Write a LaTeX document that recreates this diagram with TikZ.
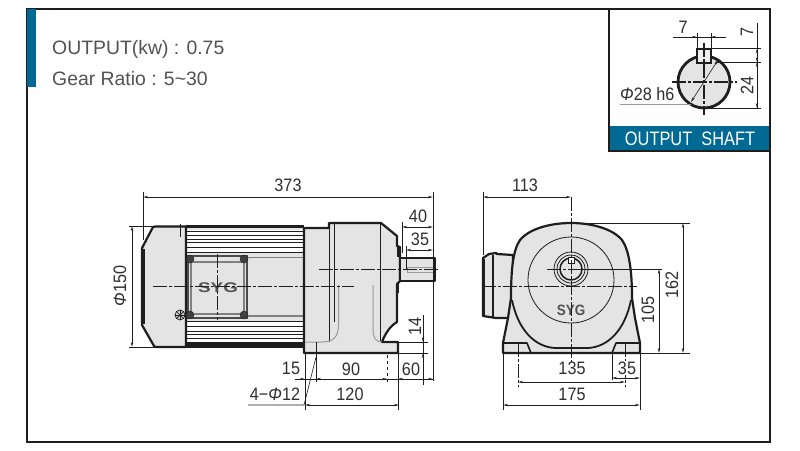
\documentclass[tikz,border=0pt]{standalone}
\usepackage{fontspec}
\setmainfont{Liberation Sans}
\newfontfamily\numf[FakeStretch=0.9]{Liberation Sans}
\newfontfamily\shaftf[FakeStretch=0.84]{Liberation Sans}
\newfontfamily\logof[FakeStretch=1.35]{Liberation Sans}
\usetikzlibrary{arrows.meta}
\definecolor{teal1}{HTML}{006A94}
\definecolor{body1}{HTML}{E4E4E4}
\definecolor{ink}{HTML}{1E1E1E}
\definecolor{txt}{HTML}{2E2E2E}
\newcommand{\Ph}{\textit{Φ}}
\tikzset{
 x=1pt,y=-1pt,
 every node/.style={inner sep=0pt,text=txt,font=\numf\fontsize{18}{18}\selectfont},
 frameline/.style={draw=ink,line width=1.8pt},
 outline/.style={draw=ink,line width=2.2pt,line join=round,fill=body1},
 heavy/.style={draw=ink,line width=2.2pt,line join=round},
 thinl/.style={draw=ink,line width=0.7pt},
 grayl/.style={draw=gray!80,line width=1pt},
 dim/.style={draw=ink,line width=0.7pt,{Stealth[length=5pt,width=2.4pt]}-{Stealth[length=5pt,width=2.4pt]}},
 ext/.style={draw=ink,line width=0.6pt},
 center/.style={draw=ink,line width=0.8pt,dash pattern=on 14pt off 2pt on 3pt off 2pt},
 logo/.style={text=gray!65!black,font=\logof\fontsize{14}{14}\selectfont\bfseries},
 head/.style={text=black!68,font=\rmfamily\fontsize{19.4}{19.4}\selectfont,anchor=west},
 bolt/.style={fill=ink!85,draw=ink,line width=0.4pt},
}
\begin{document}
\begin{tikzpicture}
\useasboundingbox (0,0) rectangle (800,450);
\fill[white] (0,0) rectangle (800,450);
% frame
\draw[frameline] (27,9) rectangle (770,442);
\fill[teal1] (27,9) rectangle (36,87);
\draw[frameline] (609,9) -- (609,151) -- (770,151);
\fill[teal1] (609,126) rectangle (769,151);
\draw[frameline] (609,126) -- (609,151) -- (769,151);
\node[head] (t1) at (52,49) {OUTPUT(kw) : 0.75};
\node[head] (t2) at (52,79) {Gear Ratio : 5\char"007E 30};
\node[text=white,font=\shaftf\fontsize{19.5}{19.5}\selectfont] (t3) at (690,138.5) {OUTPUT\ \ SHAFT};

% inset
\draw[line width=2.8pt,draw=ink,fill=body1] (704,82) circle (26);
\draw[line width=2pt,draw=ink,fill=body1!60!white] (697,48.5) rectangle (711,62.5);
\draw[center,line width=1.1pt] (672,82) -- (737,82);
\draw[center,line width=1.1pt] (704,43) -- (704,115);
\draw[ext] (697,33) -- (697,48);
\draw[ext] (711,33) -- (711,48);
\draw[ext] (673,37) -- (726,37);
\draw[ext,-{Stealth[length=5pt,width=2.4pt]}] (687,37) -- (697,37);
\draw[ext,-{Stealth[length=5pt,width=2.4pt]}] (721,37) -- (711,37);
\node (i7) at (683,27) {7};
\draw[ext] (711,48.5) -- (761,48.5);
\draw[ext] (716,62) -- (761,62);
\draw[ext] (704,108) -- (761,108);
\draw[ext] (757,23) -- (757,108);
\draw[dim] (757,48.5) -- (757,62);
\draw[dim] (757,62) -- (757,108);
\node[rotate=90] (i7b) at (747,32) {7};
\node[rotate=90] (i24) at (747,85) {24};
\draw[ext,{Stealth[length=5pt,width=2.4pt]}-{Stealth[length=5pt,width=2.4pt]}] (691,102) -- (718,60);
\draw[grayl] (620,104) -- (691,104);
\node[anchor=west] (iph) at (620,94.5) {\Ph28 h6};

% side view: motor
\fill[body1] (186,226) rectangle (304,347);
\fill[white] (186,230) rectangle (304,252);
\fill[white] (186,321) rectangle (304,343);
\foreach \yy in {231,235,239,242,247,252,321,326,331,334,338,342}{
  \draw[thinl,line width=0.8pt] (186,\yy) -- (304,\yy);}
\draw[draw=gray,line width=1.2pt] (248,257.5) -- (304,257.5);
\draw[draw=gray,line width=1.2pt] (248,316) -- (304,316);
\draw[outline] (186,226.5) -- (155,226.5) -- (153,227) -- (142,248) -- (142,325) -- (154,346) -- (156,347) -- (186,347) -- cycle;
\draw[heavy,line width=3pt] (143,249) -- (143,324);
\draw[line width=3.4pt,draw=ink] (186,226.5) -- (304,226.5);
\draw[line width=4.4pt,draw=ink] (186,345.5) -- (304,345.5);
\draw[line width=2.4pt,draw=ink] (186,226) -- (186,347);
% terminal box
\draw[draw=ink!80,line width=1.8pt,fill=body1] (188,256) rectangle (247,318);
\draw[draw=gray,line width=1.4pt] (191,262) rectangle (244,314);
\foreach \bx/\by/\bn in {190/259/b1,244/259/b2,190/315/b3,244/315/b4}{
  \fill[bolt] (\bx,\by) circle (4);}
\draw[thinl,fill=gray!40] (180,315) circle (5);
\foreach \aa in {0,45,90,135}{\draw[thinl] (180,315) ++(\aa:5) -- ++(\aa+180:10);}
\draw[thinl] (180,224) -- (180,237);
\draw[thinl] (177,226) -- (183,226);
\node[logo] (l1) at (218,288) {SYG};

% gearbox
\draw[outline,fill=body1] (304,353) -- (304,228) -- (329,228) -- (329,223) -- (381,223) -- (397,236) -- (397,246) -- (400,247) -- (400,257) -- (400,281) -- (397,284) -- (397,293) -- (397,322) .. controls (390,326) and (385,334) .. (382,342) -- (398,342) -- (398,353) -- cycle;
\draw[heavy,fill=body1] (400,258) rectangle (435,281);
\draw[grayl] (407,267) -- (407,272) -- (433,272);
\draw[grayl,line width=0.7pt] (407,267) -- (433,267);
\draw[grayl,draw=gray!50] (398,258) -- (398,281);
\draw[heavy,line width=2.8pt] (398,246) -- (398,257);
\draw[heavy,line width=2.8pt] (398,282) -- (398,293);
\draw[thinl,line width=0.9pt] (329,223) -- (329,342);
\draw[thinl,line width=0.9pt] (334,223) -- (334,322);
\draw[thinl,line width=0.9pt] (380,223) -- (380,342);
\draw[grayl] (338.5,285) -- (338.5,325) .. controls (338.5,338) and (332,342) .. (322,342) -- (305,342);
\draw[grayl] (373,285) -- (373,330) .. controls (373,338) and (376,342) .. (382,342);
\draw[heavy,line width=1.6pt] (382,342) -- (398,342);
\draw[heavy] (305,353) -- (398,353);
% centre lines
\draw[center] (153,286) -- (354,286);
\draw[center] (319,269) -- (438,269);
\draw[center,line width=0.6pt] (217,254) -- (217,320);
% dims side
\draw[ext] (143,192) -- (143,240);
\draw[ext] (433,192) -- (433,381);
\draw[dim] (143,197) -- (433,197);
\node (d373) at (288,185) {373};
\draw[ext] (402,222) -- (402,253);
\draw[dim] (402,227) -- (433,227);
\node (d40) at (418,216) {40};
\draw[ext] (406,246) -- (406,270);
\draw[dim] (406,250) -- (433,250);
\node (d35) at (420,239) {35};
\draw[ext] (129,226) -- (158,226);
\draw[ext] (129,347) -- (158,347);
\draw[dim] (132,226) -- (132,347);
\node[rotate=90] (dphi) at (120,286) {\Ph150};
\draw[ext] (398,342) -- (428,342);
\draw[ext] (398,353) -- (428,353);
\draw[ext] (423,315) -- (423,385);
\draw[ext,-{Stealth[length=5pt,width=2.4pt]}] (423,330) -- (423,342);
\draw[ext,-{Stealth[length=5pt,width=2.4pt]}] (423,365) -- (423,353);
\node[rotate=90] (d14) at (415,326) {14};
\draw[ext] (316,342) -- (316,382);
\draw[ext,dashed] (387,355) -- (387,382);
\draw[ext] (398,353) -- (398,410);
\draw[ext] (305,353) -- (305,410);
\draw[ext] (295,379) -- (433,379);
\draw[ext,-{Stealth[length=5pt,width=2.4pt]}] (295,379) -- (305,379);
\draw[ext,-{Stealth[length=5pt,width=2.4pt]}] (326,379) -- (316,379);
\draw[ext,-{Stealth[length=5pt,width=2.4pt]}] (377,379) -- (387,379);
\draw[ext,-{Stealth[length=5pt,width=2.4pt]}] (408,379) -- (398,379);
\draw[ext,-{Stealth[length=5pt,width=2.4pt]}] (423,379) -- (433,379);
\node (d15) at (291,368) {15};
\node (d90) at (351,369) {90};
\node (d60) at (411,369) {60};
\draw[dim] (305,405) -- (399,405);
\node (d120) at (350,394) {120};
\draw[ext] (316,357) -- (304,405) -- (248,405);
\node (d412) at (275,394) {4−\Ph12};

% front view: motor stub
\draw[outline] (513,255) -- (497,254) -- (496,253) -- (489,254) -- (483,258) -- (483,316) -- (496,318) -- (513,318) -- cycle;
\draw[heavy] (493,255) -- (493,317);
\draw[heavy,line width=2.8pt] (484,259) -- (484,315);
% body with feet
\draw[outline] (503,353) -- (503,343) -- (508,318) -- (511,298) .. controls (511,270) and (513,250) .. (520,240) .. controls (530,228) and (552,223) .. (571,223) .. controls (590,223) and (612,228) .. (622,240) .. controls (629,250) and (632,270) .. (632,298) -- (635,318) -- (640,343) -- (640,353) -- cycle;
\draw[heavy,line width=1.8pt] (512,300) .. controls (518,330) and (535,347) .. (555,348) -- (588,348) .. controls (608,347) and (625,330) .. (631,300);
\draw[heavy,line width=1.6pt] (503,343) -- (527,343) -- (531,353);
\draw[heavy,line width=1.6pt] (640,343) -- (616,343) -- (612,353);
\draw[heavy] (503,353) -- (640,353);
\draw[thinl,line width=0.8pt] (571,280) circle (43);
\draw[thinl,line width=0.8pt] (571,269) circle (17);
\draw[thinl,line width=0.8pt] (571,269) circle (14);
\draw[heavy,line width=1.5pt] (571,269) circle (11);
\draw[thinl,line width=0.8pt,fill=white] (568,257) rectangle (574,263);
\node[logo,font=\numf\fontsize{15}{15}\selectfont\bfseries] (l2) at (571,310) {SYG};
% centre lines front
\draw[center] (571,197) -- (571,362);
\draw[center] (482,286) -- (637,286);
\draw[center] (547,269) -- (571,269);
\draw[ext] (571,269) -- (662,269);
\draw[ext] (575,223) -- (690,223);
\draw[ext] (640,353) -- (690,353);
% dims front
\draw[ext] (483,192) -- (483,255);
\draw[dim] (483,197) -- (571,197);
\node (d113) at (525,185) {113};
\draw[dim] (683,223) -- (683,353);
\node[rotate=90] (d162) at (672,285) {162};
\draw[dim] (659,269) -- (659,353);
\node[rotate=90] (d105) at (648,310) {105};
\draw[center,line width=0.6pt] (518,343) -- (518,387);
\draw[center,line width=0.6pt] (625,343) -- (625,387);
\draw[dim] (518,382) -- (625,382);
\node (d135) at (572,368) {135};
\draw[ext] (612,353) -- (612,380);
\draw[dim] (612,378) -- (640,378);
\fill[white] (618,361) rectangle (636,375);
\node (d35b) at (627,368) {35};
\draw[ext] (503,353) -- (503,410);
\draw[ext] (640,353) -- (640,410);
\draw[dim] (503,405) -- (640,405);
\node (d175) at (572,394) {175};
\end{tikzpicture}
\end{document}
